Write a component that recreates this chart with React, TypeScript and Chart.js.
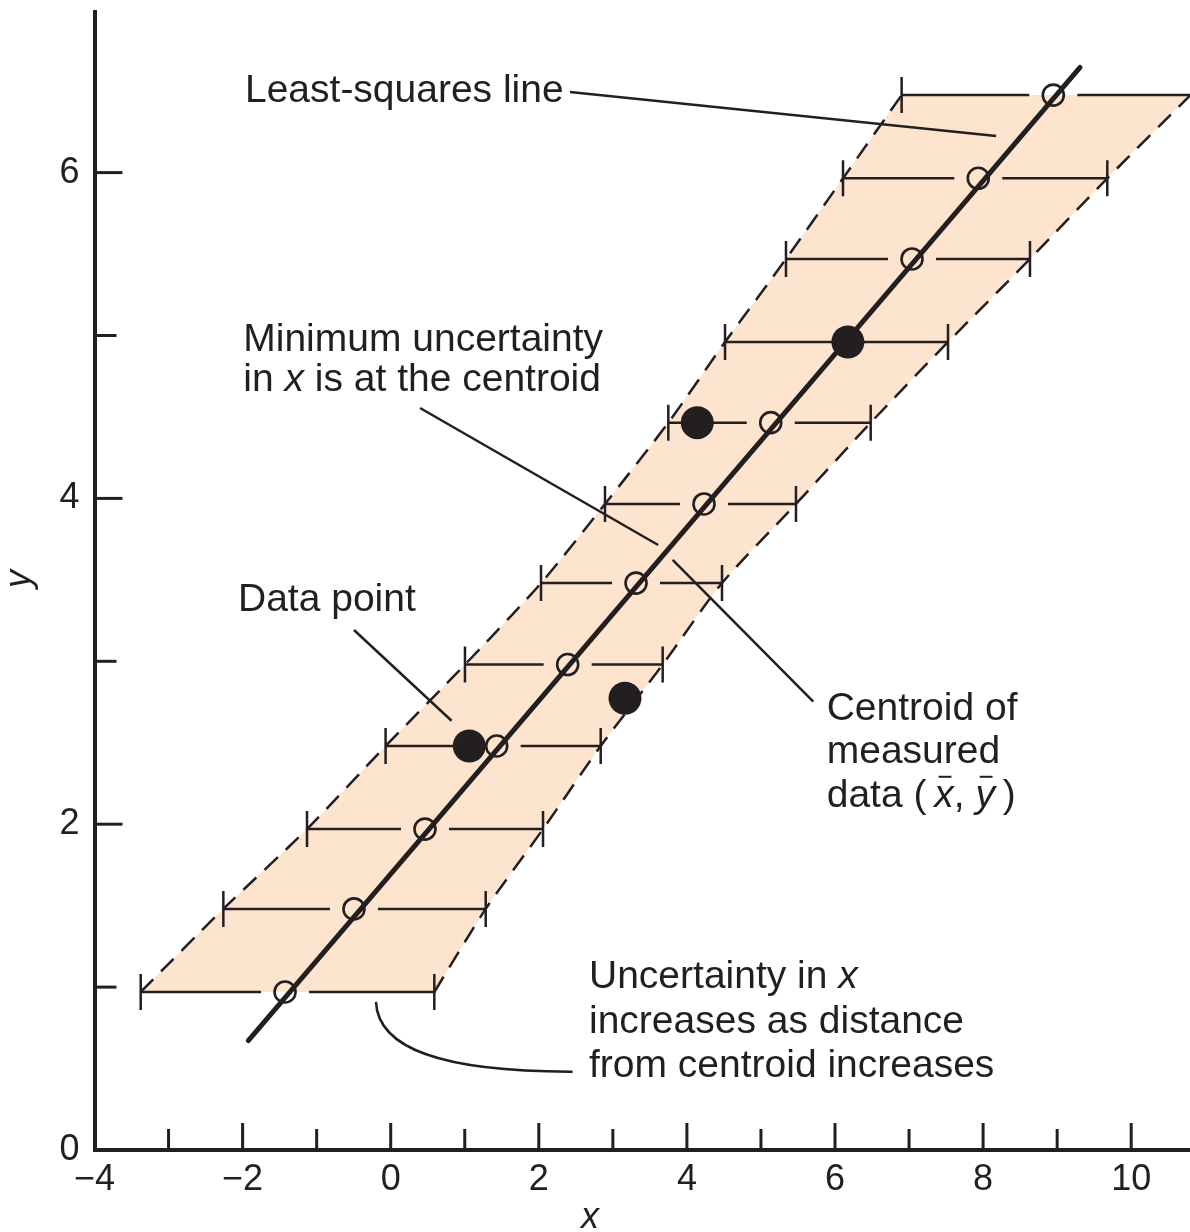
import React, { useEffect, useRef } from 'react';
import { Chart, registerables } from 'chart.js';

Chart.register(...registerables);

// ---------------- data ----------------
const X_MIN = -4;
const X_MAX = 10.794;
const Y_MIN = 0;
const Y_MAX = 6.986;
const X_TICK_LABELS = [-4, -2, 0, 2, 4, 6, 8, 10];
const Y_TICK_LABELS = [0, 2, 4, 6];

// rows of x-uncertainty bars
const ROW_Y = [0.97, 1.48, 1.97, 2.48, 2.98, 3.48, 3.966, 4.465, 4.96, 5.47, 5.965, 6.476];
const ROW_CENTER = [-1.427, -0.496, 0.463, 1.431, 2.39, 3.313, 4.231, 5.132, 6.174, 7.04, 7.935, 8.948];
const ROW_LOW = [-3.376, -2.26, -1.13, -0.069, 1.003, 2.03, 2.894, 3.749, 4.515, 5.338, 6.108, 6.9];
const ROW_HIGH = [0.589, 1.283, 2.057, 2.836, 3.673, 4.474, 5.473, 6.482, 7.526, 8.633, 9.677, 10.8];
const ROW_HAS_OPEN = [true, true, true, true, true, true, true, true, false, true, true, true];

// measured data points (filled)
const DATA_X = [1.061, 3.164, 4.14, 6.174];
const DATA_Y = [2.48, 2.773, 4.465, 4.96];

// least-squares line end points
const FIT_X = [-1.923, 9.309];
const FIT_Y = [0.672, 6.646];

// annotation texts (anchored in data units)
type Run = { t: string; it?: boolean; bar?: boolean };
const NOTES: { x: number; y: number; runs: Run[] }[] = [
  { x: -1.968, y: 6.435, runs: [{ t: 'Least-squares line' }] },
  { x: -1.991, y: 4.907, runs: [{ t: 'Minimum uncertainty' }] },
  { x: -1.991, y: 4.66, runs: [{ t: 'in ' }, { t: 'x', it: true }, { t: ' is at the centroid' }] },
  { x: -2.062, y: 3.309, runs: [{ t: 'Data point' }] },
  { x: 5.888, y: 2.64, runs: [{ t: 'Centroid of' }] },
  { x: 5.888, y: 2.378, runs: [{ t: 'measured' }] },
  {
    x: 5.888,
    y: 2.107,
    runs: [
      { t: 'data (' },
      { t: '\u2009' },
      { t: 'x', it: true, bar: true },
      { t: ', ' },
      { t: 'y', it: true, bar: true },
      { t: '\u2009)' },
    ],
  },
  { x: 2.678, y: 0.994, runs: [{ t: 'Uncertainty in ' }, { t: 'x', it: true }] },
  { x: 2.678, y: 0.718, runs: [{ t: 'increases as distance' }] },
  { x: 2.678, y: 0.448, runs: [{ t: 'from centroid increases' }] },
];
const LEADERS = [
  [2.421, 6.495, 8.175, 6.225],
  [0.396, 4.555, 3.612, 3.714],
  [-0.496, 3.192, 0.822, 2.635],
  [3.808, 3.622, 5.707, 2.752],
];
const CURVE = [
  [-0.199, 0.909],
  [-0.171, 0.626],
  [0.666, 0.479],
  [2.456, 0.481],
];
const X_TITLE_AT = 2.69;
const Y_TITLE_AT = 3.505;

// ---------------- styles ----------------
const INK = '#231f20';
const BAND = '#fde4ce';
const FONT = '"Liberation Sans", Arial, Helvetica, sans-serif';
const NOTE_SIZE = 39;
const TICK_SIZE = 36;

const fmtX = (v: number) => (v < 0 ? '\u2212' + Math.abs(v) : String(v));

const errorBarsPlugin = {
  id: 'errorBars',
  beforeDatasetsDraw(chart: any) {
    const { ctx, chartArea: a, scales } = chart;
    const x = scales.x;
    const y = scales.y;
    const GAP = 24;
    const CAP = 18;
    ctx.save();
    ctx.beginPath();
    ctx.rect(a.left, a.top - 30, a.right - a.left, a.bottom - a.top + 30);
    ctx.clip();
    ctx.strokeStyle = INK;
    ctx.lineWidth = 2.5;
    ctx.lineCap = 'butt';
    ROW_Y.forEach((v, i) => {
      const py = y.getPixelForValue(v);
      const lo = x.getPixelForValue(ROW_LOW[i]);
      const hi = x.getPixelForValue(ROW_HIGH[i]);
      const c = x.getPixelForValue(ROW_CENTER[i]);
      const segs = ROW_HAS_OPEN[i] ? [[lo, c - GAP], [c + GAP, hi]] : [[lo, hi]];
      segs.forEach(([s, e]) => {
        ctx.beginPath();
        ctx.moveTo(s, py);
        ctx.lineTo(e, py);
        ctx.stroke();
      });
      [ROW_LOW[i], ROW_HIGH[i]].forEach((ev) => {
        if (ev > X_MAX - 0.01) return;
        const px = x.getPixelForValue(ev);
        ctx.beginPath();
        ctx.moveTo(px, py - CAP);
        ctx.lineTo(px, py + CAP);
        ctx.stroke();
      });
    });
    ctx.restore();
  },
};

const axesPlugin = {
  id: 'inwardTicks',
  afterDraw(chart: any) {
    const { ctx, chartArea: a, scales } = chart;
    const x = scales.x;
    const y = scales.y;
    ctx.save();
    ctx.strokeStyle = INK;
    ctx.lineWidth = 3;
    x.ticks.forEach((t: any) => {
      if (t.value === X_MIN) return;
      const px = x.getPixelForValue(t.value);
      const len = t.value % 2 === 0 ? 27 : 21;
      ctx.beginPath();
      ctx.moveTo(px, a.bottom);
      ctx.lineTo(px, a.bottom - len);
      ctx.stroke();
    });
    y.ticks.forEach((t: any) => {
      if (t.value === Y_MIN) return;
      const py = y.getPixelForValue(t.value);
      const len = t.value % 2 === 0 ? 28 : 22;
      ctx.beginPath();
      ctx.moveTo(a.left, py);
      ctx.lineTo(a.left + len, py);
      ctx.stroke();
    });
    // axis titles
    ctx.fillStyle = INK;
    ctx.font = `italic ${TICK_SIZE}px ${FONT}`;
    ctx.textAlign = 'center';
    ctx.textBaseline = 'alphabetic';
    ctx.fillText('x', x.getPixelForValue(X_TITLE_AT), a.bottom + 78);
    ctx.save();
    ctx.translate(30, y.getPixelForValue(Y_TITLE_AT));
    ctx.rotate(-Math.PI / 2);
    ctx.fillText('y', 0, 0);
    ctx.restore();
    ctx.restore();
  },
};

const notesPlugin = {
  id: 'notes',
  afterDraw(chart: any) {
    const { ctx, scales } = chart;
    const x = scales.x;
    const y = scales.y;
    ctx.save();
    ctx.strokeStyle = INK;
    ctx.fillStyle = INK;
    ctx.lineWidth = 2.5;
    ctx.lineCap = 'butt';
    LEADERS.forEach(([x1, y1, x2, y2]) => {
      ctx.beginPath();
      ctx.moveTo(x.getPixelForValue(x1), y.getPixelForValue(y1));
      ctx.lineTo(x.getPixelForValue(x2), y.getPixelForValue(y2));
      ctx.stroke();
    });
    const p = CURVE.map(([cx, cy]) => [x.getPixelForValue(cx), y.getPixelForValue(cy)]);
    ctx.beginPath();
    ctx.moveTo(p[0][0], p[0][1]);
    ctx.bezierCurveTo(p[1][0], p[1][1], p[2][0], p[2][1], p[3][0], p[3][1]);
    ctx.stroke();

    ctx.textAlign = 'left';
    ctx.textBaseline = 'alphabetic';
    ctx.lineWidth = 2;
    NOTES.forEach((n) => {
      let cx = x.getPixelForValue(n.x);
      const by = y.getPixelForValue(n.y);
      n.runs.forEach((r) => {
        ctx.font = `${r.it ? 'italic ' : ''}${NOTE_SIZE}px ${FONT}`;
        const w = ctx.measureText(r.t).width;
        ctx.fillText(r.t, cx, by);
        if (r.bar) {
          ctx.beginPath();
          ctx.moveTo(cx + w * 0.22, by - 30);
          ctx.lineTo(cx + w * 0.88, by - 30);
          ctx.stroke();
        }
        cx += w;
      });
    });
    ctx.restore();
  },
};

export default function App() {
  const ref = useRef<HTMLCanvasElement | null>(null);

  useEffect(() => {
    if (!ref.current) return;
    const openPts = ROW_Y.map((v, i) => ({ x: ROW_CENTER[i], y: v })).filter((_, i) => ROW_HAS_OPEN[i]);
    const filledPts = DATA_X.map((v, i) => ({ x: v, y: DATA_Y[i] }));
    const fitPts = FIT_X.map((v, i) => ({ x: v, y: FIT_Y[i] }));
    const lowPts = ROW_Y.map((v, i) => ({ x: ROW_LOW[i], y: v }));
    const highPts = ROW_Y.map((v, i) => ({ x: ROW_HIGH[i], y: v }));

    const chart = new Chart(ref.current, {
      type: 'line',
      data: {
        datasets: [
          {
            data: filledPts,
            showLine: false,
            pointRadius: 16.5,
            pointBackgroundColor: INK,
            pointBorderColor: INK,
            pointBorderWidth: 0,
          },
          {
            data: openPts,
            showLine: false,
            pointRadius: 10.5,
            pointBackgroundColor: 'rgba(0,0,0,0)',
            pointBorderColor: INK,
            pointBorderWidth: 2.6,
          },
          {
            data: fitPts,
            borderColor: INK,
            borderWidth: 5,
            borderCapStyle: 'round',
            pointRadius: 0,
            fill: false,
          },
          {
            data: lowPts,
            indexAxis: 'y',
            borderColor: INK,
            borderWidth: 2.5,
            borderDash: [18, 11],
            pointRadius: 0,
            tension: 0.25,
            fill: '+1',
            backgroundColor: BAND,
          },
          {
            data: highPts,
            indexAxis: 'y',
            borderColor: INK,
            borderWidth: 2.5,
            borderDash: [18, 11],
            pointRadius: 0,
            tension: 0.25,
            fill: false,
          },
        ] as any,
      },
      options: {
        animation: false,
        responsive: false,
        events: [],
        layout: { autoPadding: false, padding: { top: 12, right: 0, bottom: 0, left: 0 } },
        plugins: {
          legend: { display: false },
          tooltip: { enabled: false },
          filler: { drawTime: 'beforeDatasetsDraw' },
        } as any,
        scales: {
          x: {
            type: 'linear',
            min: X_MIN,
            max: X_MAX,
            grid: { display: false, drawTicks: false },
            border: { display: true, color: INK, width: 4 },
            ticks: {
              stepSize: 1,
              maxTicksLimit: 30,
              includeBounds: false,
              autoSkip: false,
              maxRotation: 0,
              minRotation: 0,
              padding: 8,
              color: INK,
              font: { family: FONT, size: TICK_SIZE },
              callback: (v: any) => (X_TICK_LABELS.includes(Number(v)) ? fmtX(Number(v)) : ''),
            },
            afterFit: (s: any) => {
              s.height = 82;
              s.paddingLeft = 0;
              s.paddingRight = 0;
            },
          },
          y: {
            type: 'linear',
            min: Y_MIN,
            max: Y_MAX,
            grid: { display: false, drawTicks: false },
            border: { display: true, color: INK, width: 4 },
            ticks: {
              stepSize: 1,
              maxTicksLimit: 30,
              includeBounds: false,
              autoSkip: false,
              padding: 15,
              color: INK,
              font: { family: FONT, size: TICK_SIZE },
              callback: (v: any) => (Y_TICK_LABELS.includes(Number(v)) ? String(v) : ''),
            },
            afterFit: (s: any) => {
              s.width = 94.5;
              s.paddingTop = 0;
              s.paddingBottom = 0;
            },
          },
        } as any,
      },
      plugins: [errorBarsPlugin, axesPlugin, notesPlugin],
    } as any);
    return () => chart.destroy();
  }, []);

  return (
    <div style={{ position: 'absolute', left: 0, top: 0, width: 1190, height: 1232, background: '#fff' }}>
      <canvas ref={ref} width={1190} height={1232} style={{ display: 'block', width: 1190, height: 1232 }} />
    </div>
  );
}
